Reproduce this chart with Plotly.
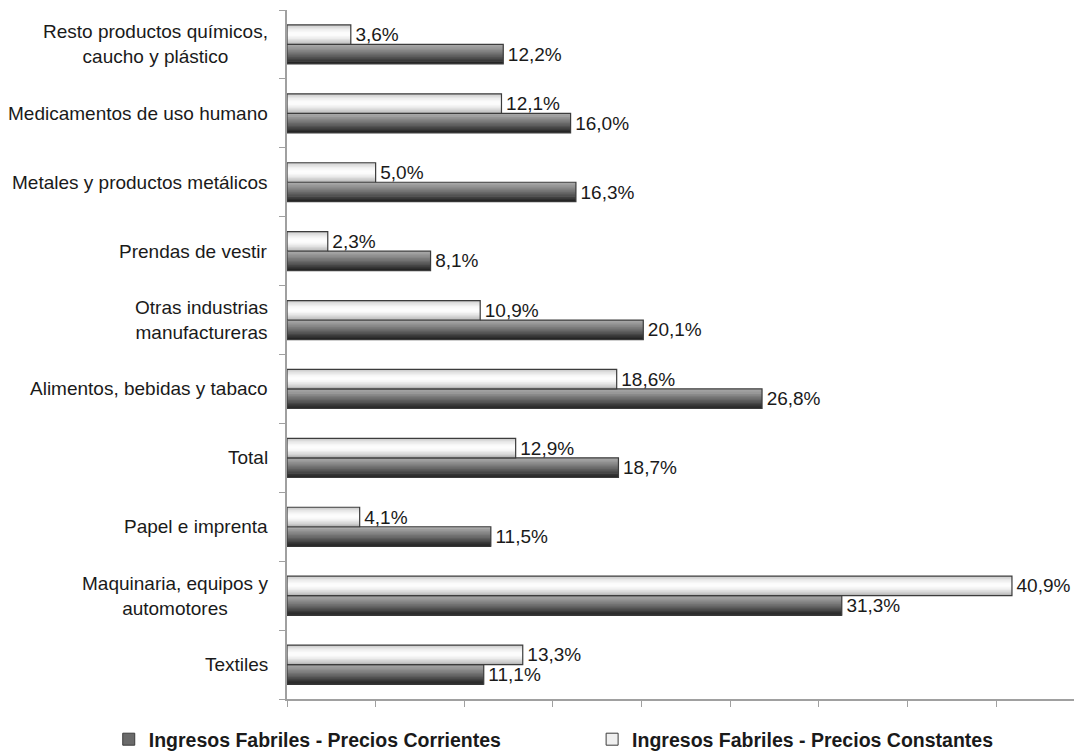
import plotly.graph_objects as go

categories = [
    "Textiles",
    "Maquinaria, equipos y<br>automotores",
    "Papel e imprenta",
    "Total",
    "Alimentos, bebidas y tabaco",
    "Otras industrias<br>manufactureras",
    "Prendas de vestir",
    "Metales y productos metálicos",
    "Medicamentos de uso humano",
    "Resto productos químicos,<br>caucho y plástico",
]
corrientes = [11.1, 31.3, 11.5, 18.7, 26.8, 20.1, 8.1, 16.3, 16.0, 12.2]
constantes = [13.3, 40.9, 4.1, 12.9, 18.6, 10.9, 2.3, 5.0, 12.1, 3.6]
series_names = ["Ingresos Fabriles - Precios Corrientes", "Ingresos Fabriles - Precios Constantes"]

FONT = "Liberation Sans, Arial, sans-serif"
TXT = "#1a1a1a"
EDGE = "#3c3c3c"
BAR_W = 0.283

dark_grad = ["#a8a8a8", "#a0a0a0", "#989898", "#8f8f8f", "#868686", "#7c7c7c", "#727272",
             "#686868", "#5d5d5d", "#525252", "#464646", "#3a3a3a", "#2f2f2f", "#252525"]
light_grad = ["#cccccc", "#dadada", "#e6e6e6", "#efefef", "#f6f6f6", "#fbfbfb", "#fdfdfd",
              "#fbfbfb", "#f5f5f5", "#ececec", "#e1e1e1", "#d5d5d5", "#c8c8c8", "#bababa"]

def fmt(v):
    return "\u200a" + f"{v:.1f}".replace(".", ",") + "%"

fig = go.Figure()

def add_series(values, base_offset, grad, name, legend_color, legend_id):
    n = len(grad)
    h = BAR_W / n
    for k, col in enumerate(grad):
        top = base_offset + BAR_W - k * h
        w = h * 1.5 if k < n - 1 else h
        fig.add_trace(go.Bar(
            y=categories, x=values, orientation="h",
            offset=top - w, width=w,
            marker=dict(color=col, line=dict(width=0)),
            showlegend=False, hoverinfo="skip",
        ))
    fig.add_trace(go.Bar(
        y=categories, x=values, orientation="h",
        offset=base_offset, width=BAR_W,
        marker=dict(color="rgba(0,0,0,0)", line=dict(color=EDGE, width=1.2)),
        text=[fmt(v) for v in values], textposition="outside",
        constraintext="none",
        textfont=dict(family=FONT, size=19, color=TXT),
        cliponaxis=False, showlegend=False, name=name,
    ))
    fig.add_trace(go.Bar(
        y=[categories[0]], x=[None], orientation="h", name=name,
        marker=dict(color=legend_color, line=dict(color=EDGE, width=1)),
        showlegend=True, legend=legend_id,
    ))

add_series(corrientes, -BAR_W, dark_grad, series_names[0], "#6a6a6a", "legend")
add_series(constantes, 0.0, light_grad, series_names[1], "#f0f0f0", "legend2")

for c in categories:
    fig.add_annotation(
        x=0, xref="paper", y=c, yref="y", text=c, showarrow=False,
        xanchor="right", align="center", xshift=-17,
        font=dict(family=FONT, size=19, color=TXT),
    )

leg_common = dict(
    orientation="h", yanchor="top", y=-0.0305, xanchor="left",
    font=dict(family=FONT, size=19.5, color=TXT, weight="bold"),
    bgcolor="rgba(0,0,0,0)", borderwidth=0,
)

FIG_H = 770
fig.update_layout(
    width=1074, height=FIG_H,
    barmode="overlay",
    paper_bgcolor="white", plot_bgcolor="white",
    margin=dict(l=287, r=0, t=10, b=FIG_H - 699),
    showlegend=True,
    legend=dict(x=-0.2265, **leg_common),
    legend2=dict(x=0.3877, **leg_common),
    xaxis=dict(
        range=[0, 44.4], tick0=0, dtick=5, showticklabels=False,
        ticks="outside", ticklen=6, tickcolor="#a0a0a0",
        showline=True, linecolor="#a0a0a0", linewidth=1.5,
        showgrid=False, zeroline=False, fixedrange=True,
    ),
    yaxis=dict(
        type="category", categoryorder="array", categoryarray=categories,
        showticklabels=False, ticks="outside", ticklen=6, tickcolor="#a0a0a0",
        tickson="boundaries",
        showline=True, linecolor="#a0a0a0", linewidth=1.5,
        showgrid=False, zeroline=False, fixedrange=True,
    ),
)

fig.write_html(
    "out.html",
    config={"displayModeBar": False},
    post_script=(
        "document.body.style.margin='0';"
        "document.body.style.overflow='hidden';"
        "document.documentElement.style.overflow='hidden';"
    ),
)
